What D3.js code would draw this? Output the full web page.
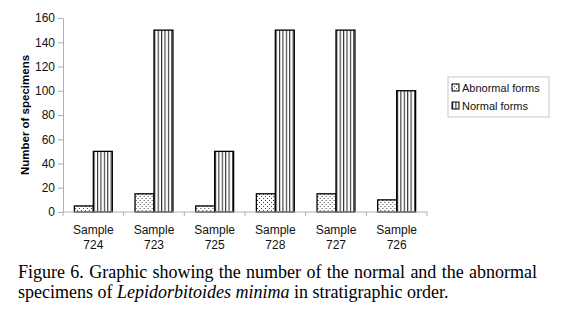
<!DOCTYPE html>
<html>
<head>
<meta charset="utf-8">
<script src="https://cdn.jsdelivr.net/npm/d3@7"></script>
<style>
  body { margin: 0; background: #fff; }
  svg { display: block; }
</style>
</head>
<body>
<div id="chart"></div>
<script>
// Samples in stratigraphic order
const samples = ['724', '723', '725', '728', '727', '726'];
const abnormalForms = [5, 15, 5, 15, 15, 10];
const normalForms = [50, 150, 50, 150, 150, 100];
const seriesNames = ['Abnormal forms', 'Normal forms'];
const yTicks = [0, 20, 40, 60, 80, 100, 120, 140, 160];

const width = 566, height = 321;
const svg = d3.select('#chart').append('svg')
  .attr('width', width)
  .attr('height', height);

// fill patterns: stipple for abnormal, vertical stripes for normal
const defs = svg.append('defs');
const dots = defs.append('pattern')
  .attr('id', 'pat-abnormal')
  .attr('patternUnits', 'userSpaceOnUse')
  .attr('width', 4).attr('height', 4);
dots.append('rect').attr('width', 4).attr('height', 4).attr('fill', '#fff');
dots.append('rect').attr('x', 0).attr('y', 0).attr('width', 1).attr('height', 1).attr('fill', '#444');
dots.append('rect').attr('x', 2).attr('y', 2).attr('width', 1).attr('height', 1).attr('fill', '#444');

const stripes = defs.append('pattern')
  .attr('id', 'pat-normal')
  .attr('patternUnits', 'userSpaceOnUse')
  .attr('width', 3.4).attr('height', 4);
stripes.append('rect').attr('width', 3.4).attr('height', 4).attr('fill', '#fff');
stripes.append('rect').attr('x', 0).attr('width', 1.1).attr('height', 4).attr('fill', '#333');

const fills = ['url(#pat-abnormal)', 'url(#pat-normal)'];

const x = d3.scaleBand()
  .domain(samples)
  .range([63, 427])
  .paddingInner(0)
  .paddingOuter(0);

const xSub = d3.scaleBand()
  .domain([0, 1])
  .range([0, x.bandwidth()])
  .paddingOuter(0.6)
  .paddingInner(0);

const y = d3.scaleLinear()
  .domain([0, 160])
  .range([212, 18]);

// y axis
const yAxis = svg.append('g')
  .attr('transform', 'translate(63,0)')
  .call(d3.axisLeft(y).tickValues(yTicks).tickSize(5).tickPadding(3));
yAxis.select('.domain').attr('stroke', '#b0b0b0');
yAxis.selectAll('.tick line').attr('stroke', '#b0b0b0');
yAxis.selectAll('.tick text')
  .attr('font-family', 'Liberation Sans, Arial, sans-serif')
  .attr('font-size', 12)
  .attr('fill', '#111');

svg.append('text')
  .attr('transform', 'translate(29,' + y(80) + ') rotate(-90)')
  .attr('text-anchor', 'middle')
  .attr('font-family', 'Liberation Sans, Arial, sans-serif')
  .attr('font-size', 11.5)
  .attr('font-weight', 'bold')
  .text('Number of specimens');

// bars
const groups = svg.append('g').selectAll('g')
  .data(samples.map((s, i) => ({ s, vals: [abnormalForms[i], normalForms[i]] })))
  .join('g')
  .attr('transform', d => 'translate(' + x(d.s) + ',0)');

groups.selectAll('rect')
  .data(d => d.vals.map((v, k) => ({ v, k })))
  .join('rect')
  .attr('x', d => xSub(d.k))
  .attr('y', d => y(d.v))
  .attr('width', xSub.bandwidth())
  .attr('height', d => y(0) - y(d.v))
  .attr('fill', d => fills[d.k])
  .attr('stroke', '#000')
  .attr('stroke-width', 1.3);

// x axis
const xAxisG = svg.append('g').attr('transform', 'translate(0,212)');
xAxisG.append('line')
  .attr('x1', 63).attr('x2', 427)
  .attr('stroke', '#b0b0b0');
xAxisG.selectAll('.sep')
  .data(samples.concat(['end']))
  .join('line')
  .attr('class', 'sep')
  .attr('x1', (d, i) => i < samples.length ? x(d) : x.range()[1])
  .attr('x2', (d, i) => i < samples.length ? x(d) : x.range()[1])
  .attr('y1', 0).attr('y2', 4)
  .attr('stroke', '#b0b0b0');

const labels = xAxisG.selectAll('.lbl')
  .data(samples)
  .join('text')
  .attr('class', 'lbl')
  .attr('text-anchor', 'middle')
  .attr('font-family', 'Liberation Sans, Arial, sans-serif')
  .attr('font-size', 12)
  .attr('fill', '#111')
  .attr('transform', d => 'translate(' + (x(d) + x.bandwidth() / 2) + ',0)');
labels.append('tspan').attr('x', 0).attr('y', 22).text('Sample');
labels.append('tspan').attr('x', 0).attr('y', 37).text(d => d);

// legend
const legend = svg.append('g').attr('transform', 'translate(448,77)');
legend.append('rect')
  .attr('width', 101).attr('height', 40)
  .attr('fill', '#fff')
  .attr('stroke', '#c8c8c8');
seriesNames.forEach((name, i) => {
  const row = legend.append('g').attr('transform', 'translate(4,' + (11 + i * 18) + ')');
  row.append('rect')
    .attr('x', 0).attr('y', -4)
    .attr('width', 7).attr('height', 7)
    .attr('fill', fills[i])
    .attr('stroke', '#000')
    .attr('stroke-width', 1);
  row.append('text')
    .attr('x', 10).attr('y', 4)
    .attr('font-family', 'Liberation Sans, Arial, sans-serif')
    .attr('font-size', 11)
    .attr('fill', '#111')
    .text(name);
});

// caption, first line justified to the right margin
const caption = svg.append('text')
  .attr('font-family', 'Liberation Serif, Times New Roman, serif')
  .attr('font-size', 18)
  .attr('fill', '#000');
const line1 = caption.append('tspan').attr('x', 18).attr('y', 278)
  .text('Figure 6. Graphic showing the number of the normal and the abnormal');
const line2 = caption.append('tspan').attr('x', 18).attr('y', 298);
line2.append('tspan').text('specimens of ');
line2.append('tspan').attr('font-style', 'italic').text('Lepidorbitoides minima');
line2.append('tspan').text(' in stratigraphic order.');

const target = 537 - 18;
const len1 = line1.node().getComputedTextLength();
const spaces = line1.text().split(' ').length - 1;
if (len1 < target) line1.attr('word-spacing', (target - len1) / spaces);
</script>
</body>
</html>
